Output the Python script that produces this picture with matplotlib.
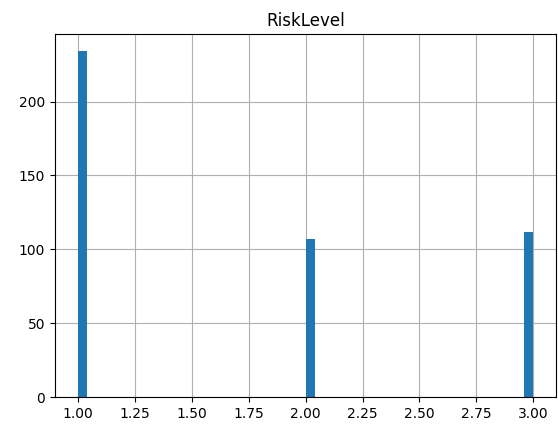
import numpy as np
import matplotlib.pyplot as plt

# RiskLevel counts per value
levels = np.array([1, 2, 3])
counts = np.array([234, 107, 112])

fig = plt.figure(figsize=(5.58, 4.26), dpi=100)
ax = fig.add_axes([0.0986, 0.068, 0.898, 0.852])
ax.hist(levels, bins=50, range=(1, 3), weights=counts, color='#1f77b4')
ax.grid(True)
ax.set_axisbelow(True)
ax.set_title('RiskLevel')
ax.set_xticks(np.arange(1.0, 3.01, 0.25))
ax.set_yticks([0, 50, 100, 150, 200])
fig.savefig('out.png')
